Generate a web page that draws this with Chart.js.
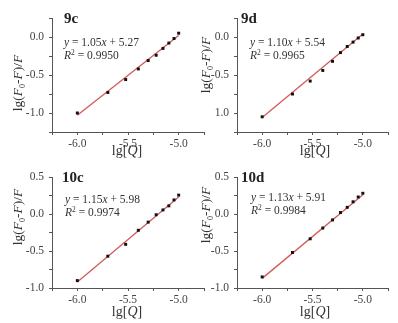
<!DOCTYPE html>
<html><head><meta charset="utf-8">
<script src="https://cdn.jsdelivr.net/npm/chart.js@4.4.1/dist/chart.umd.min.js"></script>
<style>
html,body{margin:0;padding:0;background:#fff}
body{width:398px;height:323px;position:relative;overflow:hidden;font-family:"Liberation Serif","Times New Roman",serif;color:#333}
canvas{position:absolute}
.t{position:absolute;white-space:nowrap;line-height:1}
.lab{font-weight:bold;font-size:15px;color:#222}
.eq{font-size:11.5px;color:#333}
.sup{font-size:7.5px;position:relative;top:-4px}
.sub{font-size:8px;position:relative;top:3px}
.yt{font-size:13.5px;transform:translate(-50%,-50%) rotate(-90deg);color:#333}
.xt{font-size:14px;transform:translate(-50%,0);color:#333}
</style></head><body>
<canvas id="c0"></canvas><canvas id="c1"></canvas><canvas id="c2"></canvas><canvas id="c3"></canvas>
<script>
// ---- data ----
const panelNames = ['9c', '9d', '10c', '10d'];
const lgQ = [-6.000, -5.699, -5.523, -5.398, -5.301, -5.222, -5.155, -5.097, -5.046, -5.000];
const y9c = [-1.00, -0.73, -0.56, -0.42, -0.31, -0.24, -0.15, -0.08, -0.02, 0.05];
const y9d = [-1.05, -0.75, -0.58, -0.44, -0.32, -0.205, -0.125, -0.067, -0.013, 0.03];
const y10c = [-0.90, -0.57, -0.41, -0.22, -0.11, -0.01, 0.055, 0.11, 0.19, 0.255];
const y10d = [-0.85, -0.52, -0.335, -0.19, -0.08, 0.02, 0.09, 0.165, 0.23, 0.28];
const slopes = [1.05, 1.10, 1.15, 1.13];
const intercepts = [5.27, 5.54, 5.98, 5.91];
const r2 = ['0.9950', '0.9965', '0.9974', '0.9984'];
const fitRange = [-6.0, -5.0];
const xTickValues = [-6.0, -5.5, -5.0];
const xTickLabels = ['-6.0', '-5.5', '-5.0'];
const yTickValues9 = [0.0, -0.5, -1.0];
const yTickLabels9c = ['0.0', '-0.5', '-1.0'];
const yTickLabels9d = ['0.0', '-0.5', '1.0'];
const yTickValues10 = [0.5, 0.0, -0.5, -1.0];
const yTickLabels10 = ['0.5', '0.0', '-0.5', '-1.0'];

const series = [y9c, y9d, y10c, y10d];
const yTicks = [[yTickValues9, yTickLabels9c], [yTickValues9, yTickLabels9d], [yTickValues10, yTickLabels10], [yTickValues10, yTickLabels10]];
const yRanges = [[-1.25, 0.25], [-1.25, 0.25], [-1.0, 0.5], [-1.0, 0.5]];

// ---- layout (canvas placement and chart areas) ----
const boxes = [
  {x:0,   y:0,   w:210, h:160, L:52, R:204, T:18, B:132},
  {x:198, y:0,   w:200, h:160, L:39, R:190, T:18, B:132},
  {x:0,   y:160, w:210, h:163, L:52, R:204, T:17, B:128},
  {x:198, y:160, w:200, h:163, L:39, R:190, T:17, B:128}
];

function labelFor(v, vals, labs) {
  for (let i = 0; i < vals.length; i++) if (Math.abs(v - vals[i]) < 1e-6) return labs[i];
  return '';
}

Chart.defaults.font.family = 'Liberation Serif, Times New Roman, serif';
const tickFont = {family: 'Liberation Serif, Times New Roman, serif', size: 11.5};
const axisColor = '#555';

boxes.forEach((b, i) => {
  const cv = document.getElementById('c' + i);
  cv.width = b.w; cv.height = b.h;
  cv.style.left = b.x + 'px'; cv.style.top = b.y + 'px';
  cv.style.width = b.w + 'px'; cv.style.height = b.h + 'px';
  const pts = lgQ.map((x, k) => ({x: x, y: series[i][k]}));
  const fit = fitRange.map(x => ({x: x, y: slopes[i] * x + intercepts[i]}));
  new Chart(cv, {
    type: 'scatter',
    data: {datasets: [
      {data: pts, pointStyle: 'rect', pointRadius: 2.1, backgroundColor: '#111', borderColor: '#111', borderWidth: 0, order: 0},
      {type: 'line', data: fit, borderColor: 'rgb(214,92,92)', borderWidth: 1.4, pointRadius: 0, fill: false, order: 1}
    ]},
    options: {
      responsive: false, animation: false, devicePixelRatio: 1,
      layout: {padding: {left: 0, top: b.T, right: b.w - b.R, bottom: 0}},
      plugins: {legend: {display: false}, tooltip: {enabled: false}},
      scales: {
        x: {
          type: 'linear', min: -6.25, max: -4.75,
          afterFit: s => { s.height = b.h - b.B; },
          border: {display: true, color: axisColor, width: 1},
          grid: {drawOnChartArea: false, drawTicks: true, tickLength: 3, color: axisColor},
          ticks: {stepSize: 0.25, autoSkip: false, maxRotation: 0, padding: 2, color: '#444', font: tickFont,
                  callback: v => labelFor(v, xTickValues, xTickLabels)}
        },
        y: {
          type: 'linear', min: yRanges[i][0], max: yRanges[i][1],
          afterFit: s => { s.width = b.L; },
          border: {display: true, color: axisColor, width: 1},
          grid: {drawOnChartArea: false, drawTicks: true, tickLength: 3, color: axisColor},
          ticks: {stepSize: 0.25, autoSkip: false, padding: 5, color: '#444', font: tickFont,
                  callback: v => labelFor(v, yTicks[i][0], yTicks[i][1])}
        }
      }
    }
  });
});

// ---- text overlays ----
const texts = [
  {lab:[64,11], eq:[64,37], yt:[18,83], xt:[127,144]},
  {lab:[241,11], eq:[250,37], yt:[206,65], xt:[315,144]},
  {lab:[62,170], eq:[65,194], yt:[18,217], xt:[127,305]},
  {lab:[241,170], eq:[251,192], yt:[206,215], xt:[315,305]}
];
texts.forEach((t, i) => {
  const add = (cls, x, y, html) => {
    const d = document.createElement('div');
    d.className = 't ' + cls; d.style.left = x + 'px'; d.style.top = y + 'px';
    d.innerHTML = html; document.body.appendChild(d);
  };
  add('lab', t.lab[0], t.lab[1], panelNames[i]);
  add('eq', t.eq[0], t.eq[1], '<i>y</i> = ' + slopes[i].toFixed(2) + '<i>x</i> + ' + intercepts[i].toFixed(2));
  add('eq', t.eq[0], t.eq[1] + 13, '<i>R</i><span class="sup">2</span> = ' + r2[i]);
  add('yt', t.yt[0], t.yt[1], 'lg(<i>F</i><span class="sub">0</span>-<i>F</i>)/<i>F</i>');
  add('xt', t.xt[0], t.xt[1], 'lg[<i>Q</i>]');
});
</script>
</body></html>
